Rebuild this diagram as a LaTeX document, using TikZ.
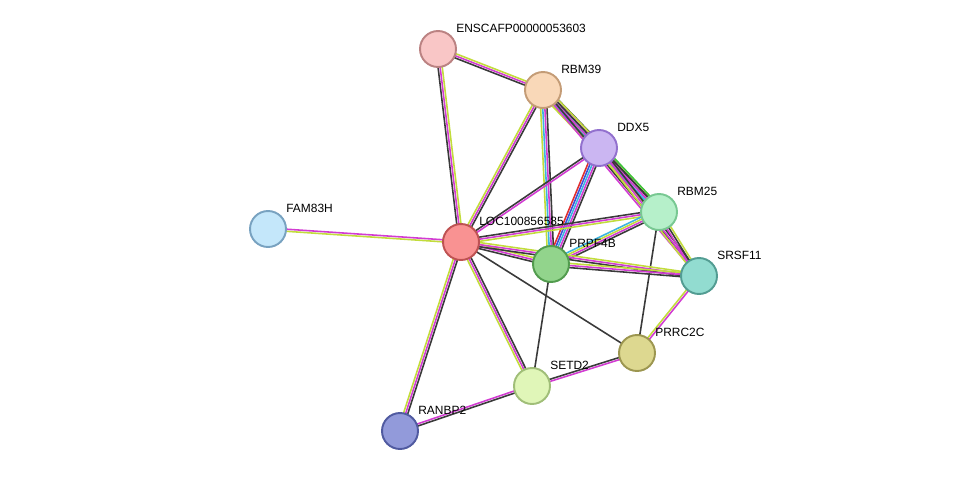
\documentclass[tikz,border=0pt]{standalone}
\usepackage{fontspec}
\setmainfont{Liberation Sans}
\usetikzlibrary{calc,backgrounds}

\definecolor{txtm}{HTML}{C2DC3C}
\definecolor{expt}{HTML}{D23CD2}
\definecolor{dbase}{HTML}{3CB4E0}
\definecolor{coex}{HTML}{3A3A3A}
\definecolor{nbhd}{HTML}{3CC23C}
\definecolor{fusn}{HTML}{E03030}
\definecolor{cooc}{HTML}{3C50D8}

% one coloured strand per offset/colour pair
\newcommand{\strands}[3]{%
  \foreach \o/\c in {#3} {
    \draw[\c, line width=0.9pt]
      ($(#1)!\o pt!90:(#2)$) -- ($(#2)!\o pt!-90:(#1)$);
  }%
}

\begin{document}
\begin{tikzpicture}[x=0.02cm, y=-0.02cm,
    prot/.style={circle, draw, line width=1.1pt, minimum size=0.72cm, inner sep=0},
    lbl/.style={anchor=west, inner sep=0, font=\fontsize{6.8}{8}\selectfont}
  ]
    \useasboundingbox (0,0) rectangle (975,477);

    \node[prot, fill={rgb,255:red,249;green,198;blue,198}, draw={rgb,255:red,187;green,130;blue,130}] (ens) at (438,49) {};
    \node[prot, fill={rgb,255:red,249;green,216;blue,184}, draw={rgb,255:red,196;green,156;blue,118}] (rbm39) at (543,90) {};
    \node[prot, fill={rgb,255:red,203;green,182;blue,242}, draw={rgb,255:red,146;green,112;blue,206}] (ddx5) at (599,148) {};
    \node[prot, fill={rgb,255:red,182;green,240;blue,202}, draw={rgb,255:red,120;green,200;blue,146}] (rbm25) at (659,212) {};
    \node[prot, fill={rgb,255:red,196;green,231;blue,250}, draw={rgb,255:red,120;green,162;blue,192}] (fam83h) at (268,229) {};
    \node[prot, fill={rgb,255:red,249;green,146;blue,146}, draw={rgb,255:red,190;green,82;blue,82}] (loc) at (461,242) {};
    \node[prot, fill={rgb,255:red,146;green,212;blue,140}, draw={rgb,255:red,82;green,156;blue,78}] (prpf4b) at (551,264) {};
    \node[prot, fill={rgb,255:red,146;green,220;blue,208}, draw={rgb,255:red,82;green,156;blue,146}] (srsf11) at (699,276) {};
    \node[prot, fill={rgb,255:red,221;green,216;blue,144}, draw={rgb,255:red,156;green,150;blue,80}] (prrc2c) at (637,353) {};
    \node[prot, fill={rgb,255:red,224;green,246;blue,184}, draw={rgb,255:red,160;green,190;blue,120}] (setd2) at (532,386) {};
    \node[prot, fill={rgb,255:red,146;green,154;blue,218}, draw={rgb,255:red,80;green,90;blue,160}] (ranbp2) at (400,431) {};

    \foreach \n/\t in {ens/ENSCAFP00000053603, rbm39/RBM39, ddx5/DDX5, rbm25/RBM25,
        fam83h/FAM83H, loc/LOC100856585, prpf4b/PRPF4B, srsf11/SRSF11,
        prrc2c/PRRC2C, setd2/SETD2, ranbp2/RANBP2}
      \node[lbl] (\n-l) at ($(\n)+(18,-21)$) {\t};

    \begin{scope}[on background layer]
      \strands{ens}{rbm39}{-1.2/coex,0/expt,1.2/txtm}
      \strands{ens}{loc}{-1.2/coex,0/expt,1.2/txtm}
      \strands{rbm39}{ddx5}{-2.4/txtm,-1.2/nbhd,0/dbase,1.2/expt,2.4/coex}
      \strands{rbm39}{loc}{-1.2/txtm,0/expt,1.2/coex}
      \strands{rbm39}{prpf4b}{-1.8/txtm,-0.6/dbase,0.6/expt,1.8/coex}
      \strands{rbm39}{rbm25}{-2.4/txtm,-1.2/dbase,0/expt,1.2/coex,2.4/txtm}
      \strands{rbm39}{srsf11}{-0.6/expt,0.6/coex}
      \strands{ddx5}{loc}{-0.6/coex,0.6/expt}
      \strands{ddx5}{prpf4b}{-2.4/fusn,-1.2/cooc,0/dbase,1.2/expt,2.4/coex}
      \strands{ddx5}{rbm25}{-2.4/txtm,-1.2/dbase,0/expt,1.2/coex,2.4/nbhd}
      \strands{ddx5}{srsf11}{-1.2/txtm,0/expt,1.2/coex}
      \strands{rbm25}{loc}{-1.2/coex,0/expt,1.2/txtm}
      \strands{rbm25}{prpf4b}{-1.8/dbase,-0.6/txtm,0.6/expt,1.8/coex}
      \strands{rbm25}{srsf11}{-1.2/expt,0/coex,1.2/txtm}
      \strands{rbm25}{prrc2c}{0/coex}
      \strands{fam83h}{loc}{-0.6/txtm,0.6/expt}
      \strands{loc}{prpf4b}{-1.2/coex,0/expt,1.2/txtm}
      \strands{loc}{srsf11}{-1.2/coex,0/expt,1.2/txtm}
      \strands{loc}{prrc2c}{0/coex}
      \strands{loc}{setd2}{-1.2/txtm,0/expt,1.2/coex}
      \strands{loc}{ranbp2}{-1.2/txtm,0/expt,1.2/coex}
      \strands{prpf4b}{srsf11}{-1.2/coex,0/expt,1.2/txtm}
      \strands{prpf4b}{setd2}{0/coex}
      \strands{srsf11}{prrc2c}{-0.6/txtm,0.6/expt}
      \strands{setd2}{prrc2c}{-0.6/expt,0.6/coex}
      \strands{setd2}{ranbp2}{-0.6/expt,0.6/coex}
    \end{scope}
\end{tikzpicture}
\end{document}
